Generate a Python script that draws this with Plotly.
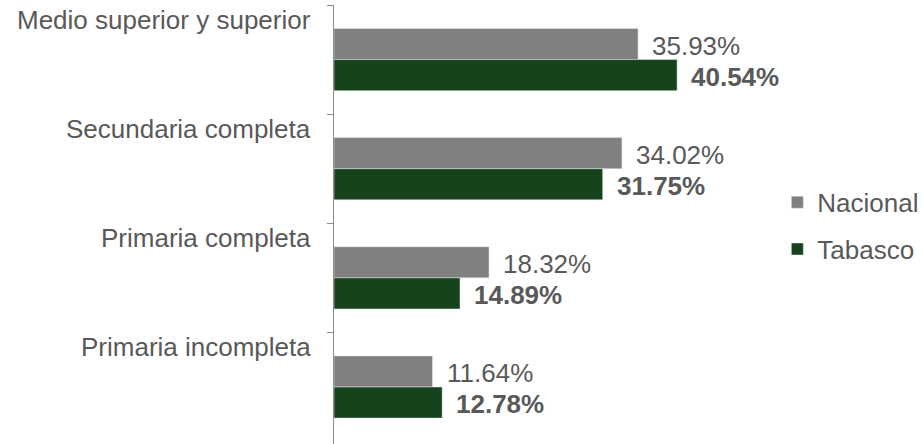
import plotly.graph_objects as go

categories = ["Medio superior y superior", "Secundaria completa", "Primaria completa", "Primaria incompleta"]
nacional = [35.93, 34.02, 18.32, 11.64]
tabasco = [40.54, 31.75, 14.89, 12.78]

GRAY = "#808080"
GREEN = "#16421c"
TXT = "#595959"
FONT = "Liberation Sans, Arial, sans-serif"
FS = 26

fig = go.Figure()
fig.add_trace(go.Bar(y=categories, x=nacional, orientation="h", name="Nacional",
                     marker=dict(color=GRAY), legendgroup="a"))
fig.add_trace(go.Bar(y=categories, x=tabasco, orientation="h", name="Tabasco",
                     marker=dict(color=GREEN), legendgroup="b"))

annotations = []
for c, n, t in zip(categories, nacional, tabasco):
    annotations.append(dict(x=0, y=c, xref="x", yref="y", text=c, showarrow=False,
                            xanchor="right", yanchor="middle", xshift=-21, yshift=40,
                            font=dict(size=FS, color=TXT, family=FONT)))
    annotations.append(dict(x=n, y=c, xref="x", yref="y", text=f"{n:.2f}%", showarrow=False,
                            xanchor="left", yanchor="middle", xshift=12, yshift=14,
                            font=dict(size=FS, color=TXT, family=FONT)))
    annotations.append(dict(x=t, y=c, xref="x", yref="y", text=f"<b>{t:.2f}%</b>", showarrow=False,
                            xanchor="left", yanchor="middle", xshift=12, yshift=-17,
                            font=dict(size=FS, color=TXT, family=FONT)))

fig.update_layout(
    width=923, height=444,
    margin=dict(l=334, r=143, t=5, b=0, autoexpand=False),
    paper_bgcolor="white", plot_bgcolor="white",
    barmode="group", bargap=0.43, bargroupgap=0,
    font=dict(family=FONT, color=TXT, size=FS),
    xaxis=dict(range=[0, 52.7], showgrid=False, zeroline=False, showticklabels=False,
               showline=False, fixedrange=True),
    yaxis=dict(autorange="reversed", showgrid=False, showticklabels=False, showline=True,
               linecolor="#8c8c8c", linewidth=1, ticks="outside", tickson="boundaries",
               ticklen=6, tickcolor="#8c8c8c", fixedrange=True),
    legend=dict(x=0.994, xanchor="left", y=0.497, yanchor="middle", traceorder="grouped",
                tracegroupgap=10, font=dict(size=FS, color=TXT, family=FONT),
                bgcolor="rgba(0,0,0,0)"),
    annotations=annotations,
)

fig.write_html(
    "out.html",
    config={"displayModeBar": False},
    post_script="document.documentElement.style.overflow='hidden';"
                "document.body.style.margin='0';document.body.style.overflow='hidden';",
)
